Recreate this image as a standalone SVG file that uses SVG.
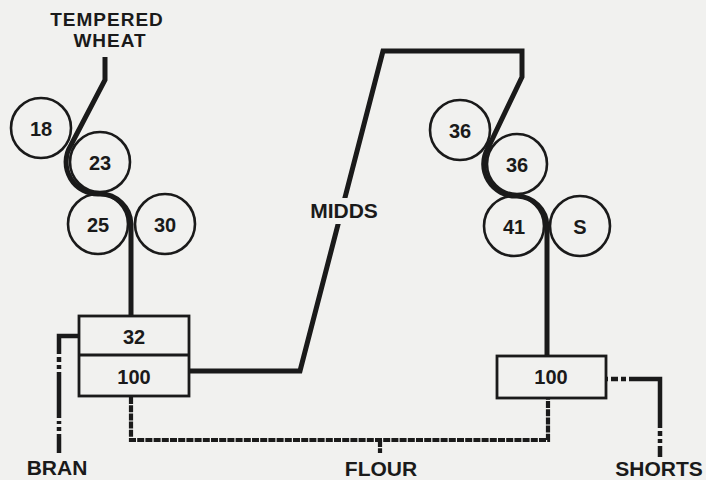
<svg xmlns="http://www.w3.org/2000/svg" width="706" height="480" viewBox="0 0 706 480">
<style>
.bg{fill:#f1f1ef}
.roll{fill:none;stroke:#1a1a1a;stroke-width:2.6}
.box{fill:none;stroke:#1a1a1a;stroke-width:2.8}
.t{font-family:"Liberation Sans",Arial,sans-serif;font-weight:bold;fill:#1a1a1a;text-anchor:middle}
.num{font-size:20px}
.lbl{font-size:21px}
.lbl2{font-size:19px;letter-spacing:1px}
.flow{fill:none;stroke:#1a1a1a;stroke-width:5;stroke-linejoin:miter}
.dd{fill:none;stroke:#1a1a1a;stroke-width:4.5}
.flour{fill:none;stroke:#1a1a1a;stroke-width:4.2;stroke-dasharray:7 1.2}
</style>
<rect class="bg" x="0" y="0" width="706" height="480"/>
<g id="connectors">
<path class="flow" d="M105,57 V80 L71,145 A32,32 0 0 0 100,194 A31,31 0 0 1 131,224 V316"/>
<path class="flow" d="M189,371 H300 L383,51 H522 V77 L488,148 A32,32 0 0 0 517,196 A31,31 0 0 1 547,226 V356"/>
<path class="dd" d="M79,336 H59 V453" stroke-dasharray="38 3 5 3 4 3 46 3 3 3 4 3 200"/>
<path class="dd" d="M606,379 H660 V457" stroke-dasharray="2 3 7 3 5 3 80 3 5 3 4 3 200"/>
<path class="flour" d="M131,397 V440 H548 V398"/>
<path class="flour" d="M380,440 V453"/>
</g>
<rect class="bg" x="306" y="198" width="76" height="26"/>
<g id="label-tempered-wheat">
<text class="t lbl2" x="107" y="26">TEMPERED</text>
<text class="t lbl2" x="110" y="47">WHEAT</text>
</g>
<g id="roll-18"><circle class="roll" cx="41" cy="128" r="30"/><text class="t num" x="41" y="136">18</text></g>
<g id="roll-23"><circle class="roll" cx="100" cy="162" r="30"/><text class="t num" x="100" y="170">23</text></g>
<g id="roll-25"><circle class="roll" cx="98" cy="224" r="30"/><text class="t num" x="98" y="232">25</text></g>
<g id="roll-30"><circle class="roll" cx="165" cy="224" r="30"/><text class="t num" x="165" y="232">30</text></g>
<g id="sifter-left">
<rect class="box" x="79" y="316" width="110" height="80"/>
<line class="box" x1="79" y1="355" x2="189" y2="355"/>
<text class="t num" x="134" y="344">32</text>
<text class="t num" x="134" y="384">100</text>
</g>
<g id="label-midds"><text class="t lbl" x="344" y="218">MIDDS</text></g>
<g id="roll-36a"><circle class="roll" cx="460" cy="130" r="30"/><text class="t num" x="460" y="138">36</text></g>
<g id="roll-36b"><circle class="roll" cx="517" cy="164" r="30"/><text class="t num" x="517" y="172">36</text></g>
<g id="roll-41"><circle class="roll" cx="514" cy="226" r="30"/><text class="t num" x="514" y="234">41</text></g>
<g id="roll-s"><circle class="roll" cx="580" cy="226" r="30"/><text class="t num" x="580" y="234">S</text></g>
<g id="sifter-right">
<rect class="box" x="497" y="356" width="109" height="42"/>
<text class="t num" x="551" y="384">100</text>
</g>
<g id="label-bran"><text class="t lbl" x="57" y="475">BRAN</text></g>
<g id="label-flour"><text class="t lbl" x="381" y="476">FLOUR</text></g>
<g id="label-shorts"><text class="t lbl" x="659" y="476">SHORTS</text></g>
</svg>
